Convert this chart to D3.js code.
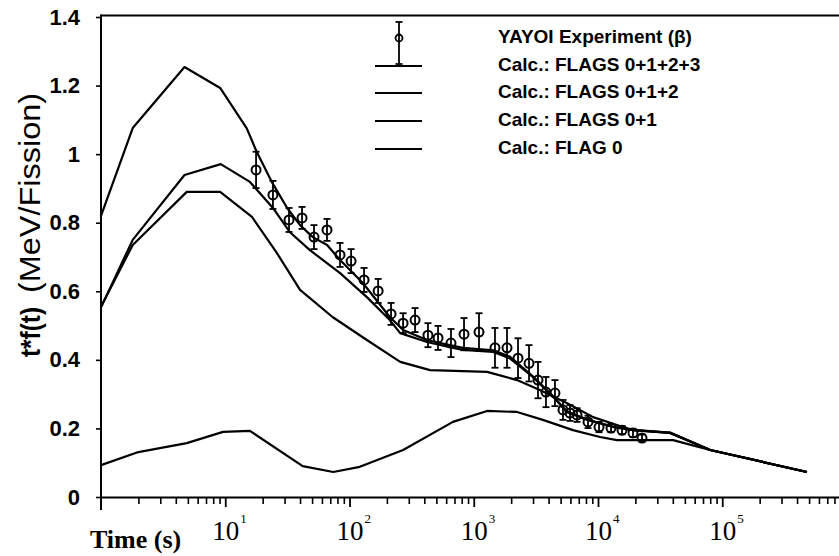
<!DOCTYPE html>
<html><head><meta charset="utf-8">
<script src="https://cdn.jsdelivr.net/npm/d3@7"></script>
<style>body{margin:0;background:#fff;} svg{display:block;}</style>
</head><body>
<svg id="chart" width="839" height="556"></svg>
<script>
// ---- data ----
const timesFlags0123 = [1, 1.8, 4.7, 9.1, 14.9, 17.9, 23.6, 31.5, 40, 50.7, 66, 84, 128, 211, 270, 420, 640, 820, 1440, 1940, 2990, 4360, 5600, 8200, 13300, 19100, 38000, 80000, 480000];
const valuesFlags0123 = [0.82, 1.076, 1.254, 1.193, 1.075, 1.007, 0.92, 0.843, 0.793, 0.758, 0.735, 0.691, 0.624, 0.525, 0.487, 0.458, 0.443, 0.435, 0.428, 0.41, 0.352, 0.294, 0.25, 0.226, 0.205, 0.196, 0.188, 0.137, 0.073];

const timesFlags012 = [1, 1.8, 4.7, 9.2, 15.8, 24.2, 33, 48, 84, 138, 211, 256, 421, 641, 818, 1440, 1940, 2990, 4360, 5600, 8200, 13300, 19100, 38000, 80000, 480000];
const valuesFlags012 = [0.553, 0.75, 0.939, 0.971, 0.919, 0.843, 0.773, 0.72, 0.653, 0.583, 0.516, 0.478, 0.452, 0.437, 0.429, 0.423, 0.405, 0.35, 0.292, 0.248, 0.225, 0.204, 0.195, 0.187, 0.137, 0.073];

const timesFlags01 = [1, 1.8, 4.9, 9.1, 16.4, 26, 40, 73, 138, 256, 445, 1280, 2230, 3400, 5600, 9140, 14200, 19100, 38000, 80000, 480000];
const valuesFlags01 = [0.555, 0.735, 0.89, 0.89, 0.817, 0.712, 0.604, 0.525, 0.458, 0.394, 0.37, 0.365, 0.341, 0.312, 0.274, 0.233, 0.21, 0.195, 0.187, 0.137, 0.073];

const timesFlag0 = [1, 2, 4.9, 9.6, 15.8, 42, 74, 121, 270, 680, 1280, 2230, 3600, 6290, 10380, 14200, 40200, 79700, 481000];
const valuesFlag0 = [0.093, 0.131, 0.157, 0.19, 0.193, 0.09, 0.073, 0.088, 0.137, 0.219, 0.251, 0.248, 0.225, 0.195, 0.175, 0.166, 0.166, 0.137, 0.073];

const expTimes = [17.7, 24.2, 32.6, 41.5, 51.8, 65.9, 83.9, 103, 131, 170, 216, 270, 337, 428, 516, 656, 835, 1102, 1482, 1852, 2271, 2785, 3290, 3813, 4504, 5227, 5953, 6780, 8310, 10190, 12730, 15610, 19130, 22610];
const expValues = [0.954, 0.881, 0.808, 0.814, 0.758, 0.779, 0.706, 0.688, 0.633, 0.601, 0.534, 0.507, 0.516, 0.472, 0.464, 0.449, 0.475, 0.481, 0.435, 0.435, 0.405, 0.39, 0.341, 0.306, 0.303, 0.254, 0.245, 0.239, 0.219, 0.204, 0.201, 0.195, 0.187, 0.172];
const expErrors = [0.053, 0.041, 0.035, 0.032, 0.035, 0.032, 0.035, 0.035, 0.035, 0.035, 0.032, 0.029, 0.035, 0.035, 0.035, 0.041, 0.047, 0.055, 0.058, 0.058, 0.058, 0.053, 0.053, 0.044, 0.038, 0.029, 0.023, 0.02, 0.018, 0.015, 0.012, 0.012, 0.012, 0.01];

const yTickValues = [0, 0.2, 0.4, 0.6, 0.8, 1.0, 1.2, 1.4];
const yTickLabels = ["0", "0.2", "0.4", "0.6", "0.8", "1", "1.2", "1.4"];
const xDecades = [10, 100, 1000, 10000, 100000];
const xDecadeExponents = ["1", "2", "3", "4", "5"];
const legendLabels = ["YAYOI Experiment (\u03B2)", "Calc.: FLAGS 0+1+2+3", "Calc.: FLAGS 0+1+2", "Calc.: FLAGS 0+1", "Calc.: FLAG 0"];

// ---- chart ----
const svg = d3.select("#chart");
const x = d3.scaleLog().domain([1, 1e6]).range([101, 846.5]);
const y = d3.scaleLinear().domain([0, 1.4]).range([497, 17]);

const sans = "'Liberation Sans', Arial, Helvetica, sans-serif";
const serif = "'Liberation Serif', 'Times New Roman', serif";

// frame lines
svg.append("line").attr("x1", x(1)).attr("x2", 839).attr("y1", y(1.4) - 1.5).attr("y2", y(1.4) - 1.5)
  .attr("stroke", "#000").attr("stroke-width", 2);
svg.append("line").attr("x1", x(1)).attr("x2", x(1)).attr("y1", y(1.4) - 2.5).attr("y2", y(0) + 13)
  .attr("stroke", "#000").attr("stroke-width", 2);

// x axis: minor ticks
const minorTicks = [];
[1, 10, 100, 1000, 10000, 100000].forEach(dec => { for (let k = 2; k <= 9; k++) minorTicks.push(dec * k); });
const xAxisMinor = d3.axisBottom(x).tickValues(minorTicks).tickSize(7).tickSizeOuter(0).tickFormat("");
const gxm = svg.append("g").attr("transform", `translate(0,${y(0)})`).call(xAxisMinor);
gxm.select(".domain").attr("stroke-width", 2);
gxm.selectAll(".tick line").attr("stroke-width", 1.6);
const xAxisMajor = d3.axisBottom(x).tickValues(xDecades).tickSize(10).tickSizeOuter(0).tickFormat("");
const gxM = svg.append("g").attr("transform", `translate(0,${y(0)})`).call(xAxisMajor);
gxM.select(".domain").remove();
gxM.selectAll(".tick line").attr("stroke-width", 1.8);

// x decade labels
xDecades.forEach((d, i) => {
  const t = svg.append("text").attr("x", x(d) - 13).attr("y", 540)
    .attr("font-family", serif).attr("font-size", 27).attr("fill", "#000").text("10");
  t.append("tspan").attr("dy", -17).attr("dx", 1).attr("font-size", 13).text(xDecadeExponents[i]);
});
svg.append("text").attr("x", 90).attr("y", 548).attr("font-family", serif).attr("font-weight", "bold")
  .attr("font-size", 26).attr("fill", "#000").text("Time (s)");

// y axis
const yAxis = d3.axisLeft(y).tickValues(yTickValues).tickSize(5).tickPadding(16).tickSizeOuter(0)
  .tickFormat((d, i) => yTickLabels[i]);
const gy = svg.append("g").attr("transform", `translate(${x(1)},0)`).call(yAxis);
gy.select(".domain").remove();
gy.selectAll(".tick line").attr("stroke-width", 1.6);
gy.selectAll(".tick text").attr("font-family", sans).attr("font-weight", "bold").attr("font-size", 22).attr("fill", "#000");

// y title
svg.append("text").attr("transform", "translate(40,357) rotate(-90)").attr("font-family", sans)
  .attr("font-weight", "bold").attr("font-size", 28).attr("fill", "#000")
  .attr("textLength", 50).attr("lengthAdjust", "spacingAndGlyphs").text("t*f(t)");
svg.append("text").attr("transform", "translate(40,293) rotate(-90)").attr("font-family", sans)
  .attr("font-size", 30).attr("fill", "#000")
  .attr("textLength", 200).attr("lengthAdjust", "spacingAndGlyphs").text("(MeV/Fission)");

// curves
const line = d3.line().x(d => x(d[0])).y(d => y(d[1]));
const series = [
  [timesFlags0123, valuesFlags0123],
  [timesFlags012, valuesFlags012],
  [timesFlags01, valuesFlags01],
  [timesFlag0, valuesFlag0]
];
series.forEach(([ts, vs]) => {
  svg.append("path").datum(ts.map((t, i) => [t, vs[i]])).attr("d", line)
    .attr("fill", "none").attr("stroke", "#000").attr("stroke-width", 2.2).attr("stroke-linejoin", "round");
});

// experimental points
const exp = expTimes.map((t, i) => ({ t, v: expValues[i], e: expErrors[i] }));
const gp = svg.append("g").attr("stroke", "#000");
gp.selectAll("line.bar").data(exp).join("line").attr("class", "bar")
  .attr("x1", d => x(d.t)).attr("x2", d => x(d.t)).attr("y1", d => y(d.v + d.e)).attr("y2", d => y(d.v - d.e))
  .attr("stroke-width", 1.8);
gp.selectAll("line.capt").data(exp).join("line").attr("class", "capt")
  .attr("x1", d => x(d.t) - 3.5).attr("x2", d => x(d.t) + 3.5).attr("y1", d => y(d.v + d.e)).attr("y2", d => y(d.v + d.e))
  .attr("stroke-width", 1.8);
gp.selectAll("line.capb").data(exp).join("line").attr("class", "capb")
  .attr("x1", d => x(d.t) - 3.5).attr("x2", d => x(d.t) + 3.5).attr("y1", d => y(d.v - d.e)).attr("y2", d => y(d.v - d.e))
  .attr("stroke-width", 1.8);
gp.selectAll("circle").data(exp).join("circle")
  .attr("cx", d => x(d.t)).attr("cy", d => y(d.v)).attr("r", 4.5).attr("fill", "none").attr("stroke-width", 2);

// legend
const legendBaselines = [43, 71, 98, 126, 154];
const lg = svg.append("g");
legendLabels.forEach((lab, i) => {
  lg.append("text").attr("x", 498).attr("y", legendBaselines[i]).attr("font-family", sans)
    .attr("font-weight", "bold").attr("font-size", 19).attr("fill", "#000").text(lab);
  if (i > 0) {
    lg.append("line").attr("x1", 375).attr("x2", 422).attr("y1", legendBaselines[i] - 5).attr("y2", legendBaselines[i] - 5)
      .attr("stroke", "#000").attr("stroke-width", 2);
  }
});
lg.append("line").attr("x1", 399).attr("x2", 399).attr("y1", 22).attr("y2", 64).attr("stroke", "#000").attr("stroke-width", 1.8);
lg.append("line").attr("x1", 395.5).attr("x2", 402.5).attr("y1", 22).attr("y2", 22).attr("stroke", "#000").attr("stroke-width", 1.8);
lg.append("line").attr("x1", 395.5).attr("x2", 402.5).attr("y1", 64).attr("y2", 64).attr("stroke", "#000").attr("stroke-width", 1.8);
lg.append("circle").attr("cx", 399).attr("cy", 38).attr("r", 3.5).attr("fill", "none").attr("stroke", "#000").attr("stroke-width", 1.8);
</script>
</body></html>
